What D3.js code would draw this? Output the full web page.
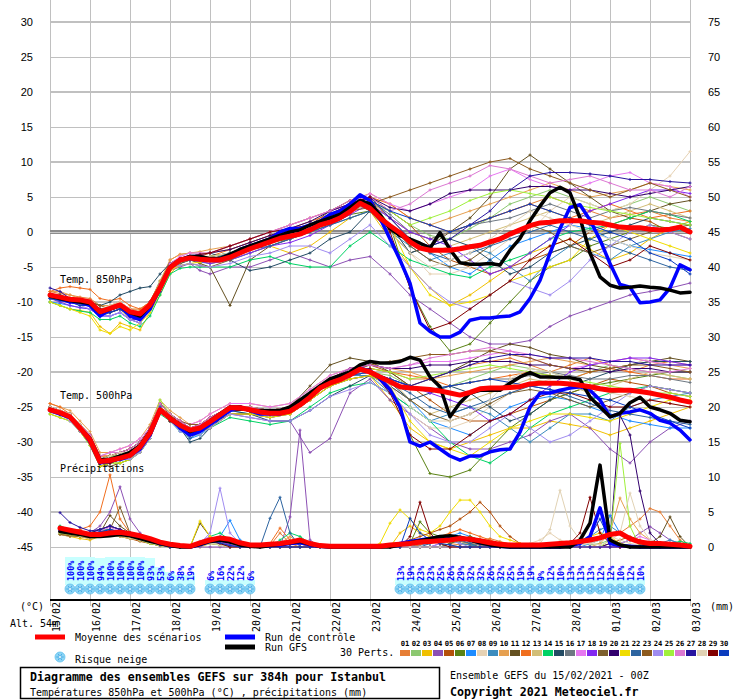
<!DOCTYPE html>
<html><head><meta charset="utf-8">
<script src="https://cdn.jsdelivr.net/npm/d3@7"></script>
<style>html,body{margin:0;padding:0;background:#fff;}svg{display:block;}</style>
</head><body>
<svg id="chart" width="740" height="700"></svg>
<script>
// ---------- categories / ticks ----------
const dayLabels=["15/02","16/02","17/02","18/02","19/02","20/02","21/02","22/02","23/02","24/02","25/02","26/02","27/02","28/02","01/03","02/03","03/03"];
const leftTicks=[30,25,20,15,10,5,0,-5,-10,-15,-20,-25,-30,-35,-40,-45];
const rightTicks=[75,70,65,60,55,50,45,40,35,30,25,20,15,10,5,0];
const memberIds=["01","02","03","04","05","06","07","08","09","10","11","12","13","14","15","16","17","18","19","20","21","22","23","24","25","26","27","28","29","30"];
const memberColors=["#e67e35","#8cc870","#f0c000","#8c50b4","#b4500a","#5a8214","#1e8cff","#e6d2b4","#3c8cbe","#e6a050","#645020","#f06e1e","#d2be78","#00d264","#234b64","#6e7882","#e678f0","#8228f0","#7d5f2d","#32006e","#f0dc00","#2d64a0","#8c5a1e","#a08cf0","#a0f03c","#dc78d2","#2814a0","#e1d2b4","#820000","#0a3cbe"];
// forecast hours
const hours6=[0,6,12,18,24,30,36,42,48,54,60,66,72,78,84,90,96,102,108,114,120,126,132,138,144,150,156,162,168,174,180,186,192,198,204,210,216,222,228,234,240,246,252,258,264,270,276,282,288,294,300,306,312,318,324,330,336,342,348,354,360,366,372,378,384];
const hoursT=[0,6,12,18,24,30,36,42,48,54,60,66,72,78,84,90,96,108,120,132,144,156,168,180,192,204,216,228,240,252,264,276,288,300,312,324,336,348,360,372,384];
const hoursP=[6,12,18,24,30,36,42,48,54,60,66,72,78,84,90,96,102,108,114,120,126,132,138,144,150,156,162,168,174,180,186,192,198,204,210,216,222,228,234,240,246,252,258,264,270,276,282,288,294,300,306,312,318,324,330,336,342,348,354,360,366,372,378,384];

// ---------- mean / control / GFS ----------
const mean850=[-9.0,-9.3,-9.6,-9.7,-10.0,-11.4,-10.9,-10.4,-11.4,-11.7,-10.4,-8.0,-5.1,-4.0,-3.7,-3.9,-4.0,-4.0,-3.6,-3.0,-2.4,-1.9,-1.4,-0.9,-0.6,-0.3,0.3,1.0,1.4,2.0,2.9,4.1,3.4,2.0,0.9,-0.1,-1.4,-2.3,-2.6,-2.6,-2.6,-2.4,-2.1,-1.9,-1.4,-1.0,-0.3,0.3,0.9,1.3,1.4,1.6,1.6,1.6,1.4,1.3,1.0,0.7,0.6,0.6,0.4,0.3,0.4,0.7,0.0];
const ctrl850=[-9.0,-9.5,-10,-10,-10.5,-12,-11,-10.5,-12,-12.5,-11,-8,-5,-4,-3.5,-3.5,-4,-4,-3.5,-2.5,-2,-1.5,-1,0,0.5,0.5,1,1.5,2.5,3,4,5.3,4.5,2,-1,-4,-7.3,-13,-14.2,-15,-15,-14.3,-12.6,-12.3,-12.3,-12.1,-12,-11.4,-9.5,-6.9,-3,0.5,3.5,3.9,1.7,-1.1,-4.5,-7.5,-7.9,-10.1,-10,-9.7,-8,-4.7,-5.4];
const gfs850=[-9.2,-9.5,-9.8,-10,-10.2,-11.5,-11,-10.5,-11.5,-12,-10.5,-8,-5,-4,-3.5,-3.5,-3.8,-3.8,-3.2,-2.5,-2,-1.5,-1,-0.5,0,0.3,1,1.5,2,2.5,3.5,4.5,4,2.5,0.5,-0.5,-1,-1.6,-2.3,-0.1,-2.5,-4.4,-4.6,-4.6,-4.5,-4.7,-2.6,-0.9,1.6,3.7,5.6,6.4,5.6,2,-3,-6.4,-7.6,-8,-7.9,-7.7,-7.9,-8,-8.3,-8.7,-8.6];
const mean500=[-25.4,-25.8,-26.4,-28,-29.7,-32.8,-32.6,-32.3,-31.9,-30.7,-28.7,-25.4,-26.6,-27.6,-28.3,-28,-27.1,-26.1,-25.1,-25.1,-25.4,-25.7,-25.9,-25.9,-25.6,-24.7,-23.6,-22.3,-21.6,-21.1,-20.4,-19.6,-20,-20.7,-21.4,-22.1,-22.3,-22.4,-22.5,-22.7,-23,-23.3,-22.9,-22.4,-22.3,-22.3,-22.2,-22.1,-21.7,-21.6,-21.6,-21.6,-21.7,-21.9,-22.1,-22.4,-22.6,-22.6,-22.6,-22.8,-23,-23.3,-23.6,-24,-24.3];
const ctrl500=[-25.5,-26,-26.5,-28,-30,-33,-32.5,-32.5,-32,-31,-29,-25.5,-26.5,-28,-29,-28.5,-27.5,-26.5,-25.5,-25,-25.5,-26,-26,-26,-25.5,-24.5,-23.5,-22,-21.5,-21,-20.5,-19.5,-19.8,-21,-22.5,-25,-30,-30.6,-30,-31,-32,-32.6,-32,-32,-31.4,-31.1,-31,-28.6,-25,-23,-23,-22.6,-22.3,-22.1,-22.6,-24,-26.4,-25.9,-25.7,-25.4,-25.9,-26.9,-27.3,-28.3,-29.7];
const gfs500=[-25.3,-25.8,-26.5,-28,-29.5,-32.5,-32.5,-32,-31.5,-30.5,-28.5,-25.5,-26.5,-27.5,-28.5,-28,-27,-26,-25,-25,-25.5,-25.5,-25.5,-25.5,-25,-24,-23,-22,-21,-20.5,-20,-19,-18.5,-18.7,-18.7,-18.5,-17.9,-18.3,-20.7,-22.1,-26.4,-24.4,-23,-22.6,-22.6,-22.6,-21.6,-20.7,-20.1,-20.7,-20.7,-20.8,-20.8,-21.1,-23.6,-25,-26.4,-25.9,-24.4,-23.6,-25,-25.4,-25.9,-26.9,-27.1];
const meanPr=[2.7,2.4,2.1,1.8,1.8,2.0,2.1,1.9,1.6,1.2,0.7,0.4,0.2,0.1,0.6,1.0,1.3,1.1,0.6,0.3,0.3,0.4,0.5,0.7,1.0,0.5,0.2,0.1,0.1,0.1,0.1,0.1,0.1,0.3,0.4,0.5,0.7,0.8,0.9,1.0,1.2,1.1,0.9,0.6,0.4,0.3,0.3,0.3,0.3,0.4,0.5,0.6,0.8,1.0,1.3,1.8,2.0,1.2,0.7,0.5,0.5,0.4,0.3,0.1];
const ctrlPr=[2.5,2.2,2,1.7,1.6,1.8,2,1.7,1.4,1,0.6,0.3,0.1,0,0.3,0.8,1,0.8,0.4,0.2,0.1,0.2,0.3,0.5,0.6,0.3,0.1,0,0,0,0,0,0,0.2,0.5,0.8,1,1.2,1.4,1.4,1.3,1,0.6,0.3,0.1,0,0,0,0,0,0,0.2,0.5,1.5,5.6,0.5,0.2,0.1,0,0,0,0,0,0];
const gfsPr=[2.2,2,1.8,1.5,1.5,1.6,1.8,1.6,1.2,0.8,0.5,0.2,0,0,0.4,0.8,1,0.7,0.3,0.1,0,0.2,0.4,0.6,0.8,0.4,0.1,0,0,0,0,0,0,0,0.3,0.6,0.9,1.2,1.5,1.6,1.4,1,0.6,0.3,0.1,0,0,0,0,0,0,0,1,3.4,11.7,1,0.3,0,0,0,0,0,0,0];

// ---------- members: T850 (hoursT) ----------
const t850_01=[-8.5,-8.8,-9,-9.3,-9.5,-10.5,-10.5,-10,-11,-11,-10,-7.5,-4,-3.2,-3,-3,-3,-2.5,-1.5,-0.5,0,1,2,3.5,4.5,2,0,-1,0,1,2,3,4,5,4,3,2,2.5,3,2,1.5];
const t850_02=[-9,-9.5,-10,-10.3,-10.5,-12,-11.5,-11,-12,-12.5,-11,-8.5,-5,-3.8,-3.5,-3.8,-4,-3,-2,-1,0,0.5,1.5,3,4,3,1,-0.5,-1,0.5,2,4,5,6,5,4,3,4,5,4,3];
const t850_03=[-10,-10.5,-11,-11.2,-11.5,-13.5,-14.5,-13,-13.5,-14,-11.5,-9,-6,-4.5,-4,-4.2,-4.5,-4,-3,-2,-3,-2,0,2,3,-1,-5,-8,-10.5,-9,-7,-5,-3,-2,-1,-2.5,-4,-3,-1,0.5,1.5];
const t850_04=[-9,-9.2,-9.5,-9.8,-10,-11.5,-11.5,-11,-12.5,-12.5,-11,-8.5,-5.5,-5,-4.5,-5.5,-6,-5,-5,-4,-3,-4,-5,-4,-3.5,-6,-9,-11,-13,-15,-16,-16,-15.5,-13.5,-12,-11,-10,-9,-8.5,-8,-7.3];
const t850_05=[-9,-9.5,-10,-10,-10,-11,-11,-10.5,-12,-12,-10.5,-7.5,-5,-4.2,-4,-3.5,-3,-2,-1,0,1,2,3,4,5,3,1,-2,-4,-5,-6,-5,-4,-3,-2,0,1,2,1.5,0,-1];
const t850_06=[-9.5,-9.8,-10,-10.2,-10.5,-11.5,-11.5,-11,-12,-12.5,-10,-7,-4.5,-3.8,-3.5,-3.8,-4,-3,-2,-1.5,-1,0,1,2.5,3,1,-8,-13.5,-17,-16,-13,-10,-7,-5,-4,-2,-1,0,1,0.5,0];
const t850_07=[-10,-10.2,-10.5,-10.8,-11,-12,-12,-11.5,-12.5,-13,-11,-8.5,-5,-4.5,-4,-3.8,-3.5,-3,-2,-1,-1,0.5,2,3,4,2,-1,-3,-5,-6,-4,-2,-1,0,1,0.5,-1,-2,-2.5,-3,-3.5];
const t850_08=[-9,-9.2,-9.5,-9.8,-10,-11,-11,-10.5,-11.5,-12,-10,-7.5,-5,-3.5,-3,-3,-3,-2,-1,0,-1,0,1.5,3,4,1,-3,-6,-6,-5,-3,-1,0,3,5,4,3,4,6,8,11.5];
const t850_09=[-9.5,-9.8,-10,-10.2,-10.5,-11.5,-11,-10.5,-12,-12.5,-10.5,-8,-5,-4.2,-4,-4.3,-4.5,-4,-3,-2,-1,0,1,2,3,0,-2,-4,-3,-2,-3,-5,-7,-4,-2,-3,-4,-2,-1,0,0.5];
const t850_10=[-8.5,-8.5,-9,-9.5,-10,-10.5,-10.5,-10,-11,-11.2,-10,-7,-4,-3.2,-3,-2.8,-2.5,-2,-1,0,1,2,3,4.5,5.5,4,2,1,2,3,4,5,6,7,6,5,5.5,6,7,6.5,6];
const t850_11=[-9,-9.2,-9.5,-10,-10.5,-11.5,-11,-10.5,-12,-12.5,-10,-7.5,-5,-4.5,-4,-4.5,-5,-10.5,-4,-2,-1,1,3,4.5,3,0,-3,-2,0,2,5,9,11,9,7,5,3,2,3,4,4.5];
const t850_12=[-8.5,-8,-7.8,-8,-8.2,-9.5,-9.8,-9.5,-10.5,-11,-10,-7.5,-5,-4.2,-4,-3.7,-3.5,-2.5,-1.5,-0.5,0.5,1.5,2.5,4,5,4,2,1,0,1,2,3,4,3,2,3,4,3,2,2.5,3];
const t850_13=[-9.5,-9.8,-10,-10.5,-10.5,-12,-11.5,-11,-12.5,-13,-11,-8.5,-5.5,-4.3,-4,-4,-4,-3.5,-2.5,-1.5,-0.5,0.5,1.5,3,4,2,-1,-3,-2,-1,0,1,2,3,2,1,2,3,4,3,2];
const t850_14=[-10,-10.5,-11,-11.3,-11.5,-12.5,-12.5,-12,-13,-13.5,-12,-9,-6,-5.2,-5,-5,-5,-5,-4,-3.5,-4.5,-5,-5,-2,0,-2,-4,-5,-6,-6.5,-5,-4,-3,-1,0,0.5,1,2,3,2.5,1.5];
const t850_15=[-9,-9,-9.5,-9.7,-10,-10.5,-10,-9,-8.5,-8,-7.8,-6,-4.5,-3.8,-3.5,-3.2,-3,-4,-5.5,-5,-4,-3,-1,0,3,1,-3,-2,-1,-2,-4,-6,-5,-3,-2,-1,0,1,2,1.5,1];
const t850_16=[-9.5,-9.8,-10,-10.2,-10.5,-11.5,-11,-10.5,-11.5,-12,-10.5,-8,-5,-4.2,-4,-3.8,-3.5,-3,-2,-1,0,1,2,3,4.5,2.5,0,-1,0,1,1.5,2,3,4,3,2,3,3.5,3,2.5,2];
const t850_17=[-9,-9.3,-9.5,-9.8,-10,-11,-11,-10.5,-11.5,-12,-10.5,-7.5,-4.5,-3.5,-3,-3,-3,-2,-1,0,1,2,3,4,5.5,4,3,4,5,6,8,9,7.5,6.5,6,7,8,8.5,7,6.5,5];
const t850_18=[-9.5,-10,-10.5,-10.8,-11,-12,-12,-11.5,-12.5,-13,-11,-8.5,-5,-4.2,-4,-4.2,-4.5,-4,-3,-2,-1.5,-0.5,1,2.5,4,2,0,-1,-2,-4,-6,-5,-3,-1,1,3,4,5,6,6,5.5];
const t850_19=[-9,-9.5,-10,-10.3,-10.5,-11.5,-11.5,-11,-12,-12.5,-11,-8.5,-5,-4.8,-4.5,-4.8,-5,-4,-2.5,-1.5,-0.5,0.5,1.5,3,3.5,1,-2,-4,-5,-4,-2,0,1,0,-2,-3,-2,-1,0,0.5,1];
const t850_20=[-9,-9.2,-9.5,-9.8,-10,-11,-11,-10.5,-11.5,-12,-10,-7.5,-4.5,-3.8,-3.5,-3.2,-3,-2.5,-1.5,-0.5,0.5,1.5,3,4,5,3.5,3,4,5.5,6,6,6,6.5,6.5,6,6,5.5,5,5.5,6,6.5];
const t850_21=[-10,-10.5,-11,-11.5,-12,-14,-14.5,-13.5,-14,-13,-11.5,-8.5,-5.5,-4.8,-4.5,-4.3,-4,-3,-2,-1,0,1,2,3.5,4.5,1,-5,-9,-10.5,-10,-9,-7,-6,-5,-4,-1,1,0,-1,-2,-3];
const t850_22=[-9.5,-9.8,-10,-10.2,-10.5,-11,-11,-10.5,-11.5,-12,-10.5,-8,-5,-4.2,-4,-4,-4,-3.5,-2.5,-2,-1,0,1,2,3,1,-1,-3,-4,-3,-2,-1,0,1,0,-1,-2,-3,-4,-5,-5.5];
const t850_23=[-9,-9.2,-9.5,-9.8,-10,-10.5,-11,-10.5,-11,-11.5,-10,-7.5,-4.5,-3.8,-3.5,-3.5,-3.5,-3,-2,-1,0,1,2,3,4,5,6,7,8,9,10,10.5,9,8,7,6,5,6,7,6,5];
const t850_24=[-9.5,-9.8,-10,-10.5,-11,-12,-12,-11.5,-12.5,-13,-11,-8.5,-5,-4.8,-4.5,-4.8,-5,-4.5,-3.5,-3,-2,-2,-3,-1,1,-2,-5,-8,-10,-11,-9,-7,-8,-9,-7,-4,-2,0,1,0,-1];
const t850_25=[-9,-9.3,-9.5,-9.8,-10,-11,-11,-10.5,-11.5,-12,-10.5,-8,-5,-4.2,-4,-3.7,-3.5,-3,-2,-1,0,1,2,3.5,4.5,3,1,2,3,4.5,5.5,6,5.5,5,4,3.5,3,2.5,2,1.5,1];
const t850_26=[-9,-9.2,-9.5,-9.8,-10,-11,-11,-10.5,-11.5,-12,-10,-7.5,-4.5,-3.8,-3.5,-3.2,-3,-2,-1,0,1,2,3,4.5,5,3,4,6,7,8,9.5,9,8,7,7.5,8,7,6,6,5,6.5];
const t850_27=[-8,-8.5,-9.5,-10,-10.5,-11.5,-11.5,-11,-12,-12.5,-11,-8.5,-5,-4.2,-4,-4,-4,-3.5,-2.5,-1.5,-0.5,0.5,2,3.5,5,2,-1,-2,-1,1,3,6,8,8.5,8.5,8.3,8,7.5,7.5,7.2,7];
const t850_28=[-9,-9.3,-9.5,-9.8,-10,-11,-10.5,-10,-11,-11.5,-10.5,-8,-5,-4.2,-4,-3.7,-3.5,-3,-2,-1,0,1,2,3,4,0,-3,-5,-4,-3,-1,1,3,2,1,0,-1,-2,-3,-3.5,-4];
const t850_29=[-9,-9.3,-9.5,-9.8,-10,-11,-11,-10.5,-11.5,-12,-10.5,-8,-5,-3.8,-3.5,-3.2,-3,-2,-1,0,0.5,1,2.5,4,5,0,-8,-14,-13,-11,-9,-7,-4,-2,-1,-3,-5,-4,-2,-3,-4];
const t850_30=[-9.5,-9.8,-10,-10.5,-10.5,-12,-11.5,-11,-12,-12.5,-11,-8.5,-5,-4.2,-4,-4,-4,-3,-2,-1,0,1,2,3.5,4.5,3,2,1,0,1,2,3,4,3,2,1,0,-1,-3,-4,-6];

// ---------- members: T500 (hoursT) ----------
const t500_01=[-25,-25.5,-26,-27.5,-29,-32,-32,-31.5,-31,-30,-28,-24.5,-26,-27,-28,-27.5,-26.5,-25,-25,-25.5,-25,-23,-21,-20,-19.5,-20,-21,-21,-20,-19,-18.5,-18,-19,-20,-19,-18,-19,-20,-19,-18.5,-19];
const t500_02=[-25.5,-26,-26.5,-28,-30,-33,-32.5,-32,-31.5,-30.5,-28.5,-25,-26.5,-27.5,-28,-28,-27,-25,-25,-26,-25.5,-23.5,-21.5,-20.5,-20,-20.5,-22,-22.5,-22,-21,-20,-19,-19.5,-20,-21,-20,-19,-19.5,-20,-20.5,-21];
const t500_03=[-25,-25.5,-26.5,-28.5,-30,-33.5,-33,-32.5,-32.5,-31,-29,-25.5,-27,-28,-28.5,-28,-27.5,-25.5,-25.5,-26,-26,-24,-22,-21,-20.5,-24,-28,-30,-31,-30,-29,-28,-28,-27,-27.5,-28,-29,-28,-27,-26,-25];
const t500_04=[-25.5,-26,-26.5,-28.5,-30,-33,-32.5,-32,-32,-30.5,-29,-25,-27,-28,-29,-28.5,-28,-26,-26.5,-27,-27,-31.5,-29.5,-23,-21,-24,-26,-28,-30,-31,-31,-30,-29,-27,-26,-28,-31,-33,-30,-28,-27];
const t500_05=[-25,-25.5,-26,-27.5,-29.5,-32.5,-32,-31.5,-31.5,-30.5,-28.5,-25,-26,-27.5,-28.5,-28,-27,-25,-25,-25.5,-25,-23,-21,-19.5,-19,-20,-22,-24,-26,-27,-27,-26,-25,-24,-23,-22,-21,-21.5,-22,-23,-23.5];
const t500_06=[-25.5,-26,-26.5,-28,-30,-33,-33,-32.5,-32,-31,-29,-25.5,-27,-28,-28.5,-28,-27.5,-25.5,-25.5,-26,-25.5,-23.5,-21.5,-20.5,-20,-22,-29,-34.5,-35,-34,-31,-28,-26,-24,-23,-22,-21.5,-21,-20.5,-20,-20];
const t500_07=[-25,-26,-26.5,-28,-29.5,-33,-32.5,-32.5,-32,-30.5,-28.5,-25,-26.5,-28,-29.5,-29,-27.5,-25.5,-26,-26.5,-26,-24,-22,-21,-20.5,-22,-24,-27,-28,-29,-27,-25,-24,-23.5,-24,-25,-26,-27,-27.5,-28,-28];
const t500_08=[-25,-25.5,-26,-27.5,-29,-32.5,-32,-31.5,-31,-30,-28,-24.5,-26,-27,-28,-27.5,-26.5,-25,-25,-25.5,-26,-24,-22,-20.5,-20,-23,-26,-28,-28,-27,-25,-23,-22,-21,-20,-19.5,-20,-19,-18,-18.5,-19];
const t500_09=[-25.5,-26,-26.5,-28,-29.5,-33,-33,-32.5,-32,-31,-29,-25.5,-27,-27.5,-28.5,-28,-27,-25.5,-25.5,-26,-25.5,-23.5,-21.5,-20.5,-20.5,-23,-25,-27,-26,-25,-26,-28,-30,-28,-26,-26,-27,-25,-24,-23.5,-23];
const t500_10=[-24.5,-25,-25.5,-27,-28.5,-31.5,-31.5,-31,-30.5,-29.5,-27.5,-24,-25.5,-26.5,-27.5,-27,-26,-24.5,-24.5,-25,-24.5,-22.5,-20.5,-19.5,-19,-19.5,-20,-21,-20.5,-20,-19.5,-19,-18.5,-18,-18.5,-19,-18.5,-18,-18.5,-19,-19.5];
const t500_11=[-25.5,-26,-26.5,-28.5,-30,-33,-33.5,-33,-32.5,-31.5,-29.5,-25.5,-27,-28,-29,-28.5,-28,-26,-26,-26,-25,-22,-19,-18,-18.5,-20,-22,-21,-20,-18.5,-17,-16,-16.5,-17.5,-18,-19,-19.5,-19,-18.5,-18,-18.5];
const t500_12=[-24.5,-25,-26,-27.5,-29,-32,-32,-31.5,-31,-30,-28,-24.5,-26,-27.5,-28,-27.5,-27,-25,-25,-25.5,-25,-23,-21,-20,-19.5,-20,-20.5,-21,-22,-21.5,-21,-20.5,-20,-20.5,-21,-20,-19.5,-20,-20.5,-21,-21];
const t500_13=[-25.5,-26,-26.5,-28,-29.5,-32.5,-32.5,-32,-31.5,-30.5,-28.5,-25,-26.5,-27.5,-28.5,-28,-27,-25.5,-25.5,-26,-26,-24,-22,-20.5,-20,-21,-24,-26,-25,-24,-23,-22,-21,-21.5,-22,-23,-22,-21,-20,-20.5,-21];
const t500_14=[-26,-26.5,-27,-28.5,-30.5,-33.5,-33,-33,-32.5,-31.5,-29.5,-26,-27,-28.5,-29,-29,-28,-26.5,-27,-27.5,-27,-25,-23,-22,-21.5,-23,-25,-27,-30,-32,-33,-31,-28,-26,-25,-24,-23,-22.5,-22,-22.5,-23];
const t500_15=[-25,-25.5,-26,-28,-29.5,-32.5,-32,-32,-31.5,-30.5,-28.5,-25,-26.5,-28,-30,-29.5,-28,-25.5,-26,-27,-27,-25.5,-23.5,-22,-20.5,-21.5,-24,-23,-22,-23,-25,-27,-26,-24,-22,-21,-20,-19,-18.5,-18.5,-18.5];
const t500_16=[-25.5,-26,-26.5,-28,-30,-33,-32.5,-32,-31.5,-30.5,-28.5,-25,-26.5,-27.5,-28,-28,-27,-25,-25.5,-26,-25.5,-23.5,-21.5,-20.5,-20,-21,-22,-22.5,-22,-21.5,-21,-21,-20.5,-20,-20.5,-21,-21,-20.5,-20.5,-21,-21.5];
const t500_17=[-25,-25.5,-26,-27.5,-29,-32,-31.5,-31,-30.5,-29.5,-28,-24.5,-26,-27,-27.5,-27,-26,-24.5,-24.5,-25,-24.5,-22.5,-20.5,-19.5,-19,-19.5,-19,-18.5,-18.5,-18,-17.5,-17,-18,-19,-19.5,-19,-18.5,-18,-18.5,-19,-19];
const t500_18=[-25.5,-26,-26.5,-28,-30,-33,-33,-32.5,-32,-31,-29,-25,-26.5,-27.5,-28.5,-28,-27.5,-25.5,-25.5,-26,-25.5,-23.5,-21.5,-20.5,-20,-21,-22,-23,-24,-25,-27,-26,-24,-22,-20,-19,-18.5,-18,-18,-18.5,-19];
const t500_19=[-25,-25.5,-26.5,-28.5,-30,-33.5,-33,-32.5,-32,-31,-29,-25.5,-27,-28,-29,-28.5,-27.5,-26,-26,-26.5,-26,-24,-22,-21,-20.5,-22,-24,-26,-27,-26,-24.5,-23,-22.5,-23,-24,-25,-24,-23,-22,-22.5,-23];
const t500_20=[-25.5,-26,-26,-27.5,-29.5,-32.5,-32,-31.5,-31,-30,-28,-24.5,-26,-27,-28,-27.5,-26.5,-25,-25,-25.5,-25,-23,-21,-19.5,-19,-19.5,-19.5,-19,-19,-18.5,-18.5,-18.5,-19,-19,-19.5,-19.5,-20,-19.5,-19.5,-20,-20];
const t500_21=[-26,-26.5,-27,-28.5,-30.5,-33.5,-33,-33,-32.5,-31.5,-29.5,-25.5,-27,-28,-29,-28.5,-28,-26,-26,-26.5,-26,-24,-22,-21,-20.5,-22,-27,-30,-31,-32,-30,-28,-27,-26,-26,-26.5,-27,-26,-25,-24,-24];
const t500_22=[-25.5,-26,-26.5,-28,-30,-33,-32.5,-32,-32,-31,-29,-25.5,-27,-28,-29.5,-28.5,-27.5,-25.5,-25.5,-26,-25.5,-23.5,-21.5,-20.5,-20,-21.5,-23,-25,-26,-25,-24,-23,-22,-22.5,-23.5,-24.5,-25.5,-26,-26.5,-27,-27.5];
const t500_23=[-25,-25.5,-26,-27.5,-29,-32.5,-32,-31.5,-31,-30,-28,-24.5,-26,-27,-27.5,-27.5,-26.5,-25,-25,-25.5,-25,-23,-21,-20,-19,-18.5,-18,-17.5,-17.5,-17,-17,-17.5,-18,-19,-19.5,-20,-19.5,-19,-19,-19.5,-20];
const t500_24=[-25.5,-26,-27,-28.5,-30,-33,-33,-32.5,-32.5,-31.5,-29.5,-25.5,-27,-28.5,-29,-29,-28,-26,-26.5,-27,-27,-25.5,-23.5,-22.5,-21.5,-23,-26,-29,-30,-30,-28,-26,-28,-30,-29,-27,-25,-23,-22,-22.5,-23];
const t500_25=[-25,-25.5,-26,-27.5,-29.5,-32.5,-32,-32,-31.5,-30.5,-28.5,-24,-26,-27.5,-28,-28,-27,-25,-25,-25.5,-25,-23,-21,-20,-19.5,-20,-21,-20.5,-20,-19.5,-19,-19.5,-20,-20.5,-21,-21.5,-22,-22.5,-23,-23,-23.5];
const t500_26=[-25,-25.5,-26,-27.5,-29,-32,-31.5,-31.5,-31,-30,-28,-24.5,-26,-27,-28,-27.5,-26.5,-25,-25,-25.5,-25,-23,-21,-19.5,-19,-19.5,-19,-18,-17.5,-17,-16.5,-17,-17.5,-18,-18,-18.5,-19,-19.5,-20,-20,-19.5];
const t500_27=[-25.5,-26,-26.5,-28,-30,-33,-33,-32.5,-32,-31,-29,-25.5,-26.5,-28,-29,-28.5,-27.5,-25.5,-25.5,-26,-25.5,-23.5,-21.5,-20.5,-20,-21,-22,-21,-20,-19,-18,-17.5,-17.5,-18,-18,-18,-18.5,-18.5,-19,-19,-19];
const t500_28=[-25,-25.5,-26,-27.5,-29.5,-32.5,-32,-31.5,-31.5,-30.5,-28.5,-25,-26.5,-27.5,-28,-28,-27,-25,-25.5,-26,-25.5,-23.5,-21.5,-20.5,-20,-22,-25,-27,-27,-26,-24,-21,-19.5,-20,-21,-22,-23,-23.5,-24,-24.5,-25];
const t500_29=[-25.5,-26,-26.5,-28,-30,-33,-33,-32.5,-32,-31,-29,-25.5,-27,-28,-28.5,-28,-27.5,-25.5,-25.5,-26,-25.5,-23.5,-21.5,-20,-19.5,-23,-29,-31,-31,-29,-27,-26,-24,-23,-23,-24,-25,-25,-24,-24.5,-25];
const t500_30=[-25.5,-26,-26.5,-28,-29.5,-32.5,-32.5,-32,-31.5,-30.5,-28.5,-25,-26.5,-27.5,-28.5,-28,-27,-25,-25.5,-26,-25.5,-23.5,-21.5,-20.5,-20,-21,-22,-22.5,-22,-21.5,-21,-21.5,-22,-22.5,-23,-23.5,-24,-25,-26,-27,-28];

// ---------- members: precipitation mm / 6h (hoursP) ----------
const pr_01=[2.5,2,1.5,2,2.5,3,2.5,2,1.5,1,0.5,0,0,0,0.5,1,0.8,0.3,0,0,0,0.2,2,0.5,0,0,0,0,0,0,0,0,0,0,0.3,0.5,1,1.5,1,0.5,0.3,0.5,1,1.2,0.8,0.4,0.2,0.1,0,0,0.3,0.5,1,0.5,1,1.5,2,3,4,5.5,5,3,1,0];
const pr_02=[2.2,2,1.8,1.5,1.8,2,2.2,1.5,1.2,0.8,0.3,0,0,0,0.8,1.5,1,0.5,0,0,0,0,0,0,0,0,0,0,0,0,0,0,0,0,0,0.2,0.5,0.8,1.2,1.5,1,0.5,0.3,0.2,0,0,0,0,0,0.2,0.5,0.8,0.5,0.3,0.5,1,0.5,0.2,0,0,0,0,0,0];
const pr_03=[2,1.5,1.2,1,1.5,2,1.5,1.2,1,0.5,0.2,0,0,0,0,0.5,0.3,0,0,0,0,0,0,0,0,0,0,0,0,0,0,0,0,0,2,3,2,1.5,1.2,1,0.8,0.5,0.3,0.2,0,0,0,0,0,0,0,0,0.5,1,1.5,1,0.5,0.2,0,0,0,0,0,0];
const pr_04=[2.5,2,1.5,2,3,5,8.6,4,2,1,0.5,0,0,0,0,0,0,0,0,0,0,0,0,4.3,16.7,1,0,0,0,0,0,0,0,0,0,0,0,0,0,0,0,0,0,0,0,0,0,0,0,0,0,0,0,0,0,0,0.5,1,2,2.9,2,1,0.5,0];
const pr_05=[1.8,1.5,1.5,1.2,1.5,1.8,1.5,1.2,0.8,0.5,0.2,0,0,0,0.5,1,0.5,0,0,0,0,0,0,0,0,0,0,0,0,0,0,0,0,0,0.5,1,1.5,2,2.5,3,4,5,6.4,5,3,1.5,0.5,0.2,0,0,0,0,0,0,0,0.5,1,1.5,1,0.5,0.2,0,0,0];
const pr_06=[2.2,1.8,1.5,1.5,2,2.5,2,1.5,1,0.5,0.2,0,0,0,0.3,0.5,0.3,0,0,0,0,0,0,0,0,0,0,0,0,0,0,0,0,0,0,0.5,3.6,2,1.5,1,0.5,0.3,0,0,0,0,0,0,0,0,0,0,0,0,0,0,0,0,0,0,0,0,0,0];
const pr_07=[2.5,2,1.8,2,2.5,3,2.5,1.8,1.2,0.8,0.3,0,0,0,0.5,1,1.5,3.8,1,0,0,0,0,0,0,0,0,0,0,0,0,0,0,0,0,0,0.3,0.5,1,1.5,2,1.5,1,0.5,0.3,0,0,0,0,0,0,0,0,0.5,1,4.5,2,1,0.5,0,0,0,0,0];
const pr_08=[2,1.8,1.5,1.5,1.8,2,1.8,1.5,1,0.5,0.2,0,0,0,0.2,0.5,0.3,0,0,0,0,0,0,0,0,0,0,0,0,0,0,0,0,0,0,0,0,0,0,0,0,0,0,0,0,0,0,0.5,1,2,1,0.5,0.3,0.5,1,1.5,1,0.5,0.3,0,0,0,0,0];
const pr_09=[2.3,2,1.8,1.8,2,2.2,2,1.8,1.5,1,0.5,0.2,0,0,0.3,0.8,0.5,0.2,0,0,0,0,0,0,0,0,0,0,0,0,0,0,0,0,0,0,0.5,1,1.5,1,0.5,0.3,0,0,0,0,0,0,0,0,0,0.3,0.8,1.5,2.5,3,2,1,0.5,0.3,0.5,1,0.5,0];
const pr_10=[2.8,2.5,2,2,2.5,3,2.5,2,1.5,1,0.5,0,0,0,0.5,1,0.8,0.3,0,0,0,0,0.5,1.5,0.5,0,0,0,0,0,0,0,0,0,0,0.5,1,0.8,0.5,0.3,0,0,0,0,0,0,0,0,0,0,0,0,0,0,0.5,2,7,4,2,1,0.5,0.2,0,0];
const pr_11=[2.2,2,1.8,1.5,2,4.5,3,2,1.2,0.8,0.3,0,0,0,3.4,1.5,0.5,0,0,0,0,0,0,0,0,0,0,0,0,0,0,0,0,0,0,0,0,0,0,0,0,0,0,0,0,0,0,0,0,0,0,0,0,0,0,0,0,0,0,0.5,1.5,4.3,1.5,0];
const pr_12=[2.8,2.5,2.5,3,5,10.3,4,2,1.5,1,0.5,0,0,0,0.5,1,0.5,0,0,0,0,0.5,2.7,1,0.5,0,0,0,0,0,0,0,0,0,0,0,0.3,0.8,1.5,2,2.5,2,1.5,1,0.5,0.3,0,0,0,0,0,0,0,0,0,0,0,0,0,0,0,0,0,0];
const pr_13=[1.8,1.5,1.5,1.2,1.5,1.8,1.5,1.2,1,0.5,0.2,0,0,0,0.3,0.6,0.3,0,0,0,0,0,0,0,0,0,0,0,0,0,0,0,0,0,0,0,0,0,0,0.5,1,1.5,1,0.5,0,0,0,0,0,0,0,0,0,0,0,0,0,0,0,0,0,0,0,0];
const pr_14=[3,2.5,2,2,2.5,2.5,2,1.8,1.5,1,0.5,0.2,0,0,0.5,1.5,2,1,0.5,0,0,0,1,2,1.5,0.5,0,0,0,0,0,0,0,0,0,0,0,0,0,0.5,1,1.5,1,0.5,0.3,0,0,0,0,0,0,0,0,0,0,0,0.5,1,0.5,0,0,0.5,0.8,0.5,0];
const pr_15=[2,1.8,1.5,1.5,2,2.5,2.2,2,1.5,0.8,0.3,0,0,0,0.3,0.8,0.5,0,0,0,0,0,0,0,0,0,0,0,0,0,0,0,0,0,0,0,0,0,0,0,0,0,0,0,0,0,0,0,0,0,0,0,0,0,0,0,0,0,0,0,0,0,0,0];
const pr_16=[2.2,2,1.8,1.8,2.2,2.5,2,1.5,1,0.6,0.2,0,0,0,0.5,1,0.5,0.2,0,0,0,0,0,0,0,0,0,0,0,0,0,0,0,0,0,0.3,0.8,1.2,1.5,1.2,0.8,0.5,0.3,0,0,0,0,0,0,0,0,0,0,0,0,0,0,0,0,0,0,0,0,0];
const pr_17=[2.5,2.2,2,2,2.3,2.8,2.3,1.8,1.3,0.8,0.3,0,0,0,0.8,1.5,1,0.3,0,0,0,0,0,0,0,0,0,0,0,0,0,0,0,0,0,0,0,0,0,0,0,0,0,0,0,0,0,0,0,0,0,0,0,0,0,0,0.5,1,1.5,1,0.5,0,0,0];
const pr_18=[2.3,2,1.8,1.6,2,2.4,2,1.6,1.2,0.8,0.3,0,0,0,0.5,1.2,0.8,0.3,0,0,0,0,0,0,0,0,0,0,0,0,0,0,0,0,0,0,0,0,0.5,1,1.5,1,0.5,0.2,0,0,0,0,0,0,0,0,0,0,0,0,0,0,0,0,0,0,0,0];
const pr_19=[2.1,1.8,1.6,1.5,2,2.5,5.7,2,1.2,0.6,0.2,0,0,0,0.5,1,0.5,0,0,0,0,0,0,0,0,0,0,0,0,0,0,0,0,0,0,0,0,0,0,0.5,1,1.5,1,0.5,0.3,0,0,0,0,0,0,0,0,0,0,0,0,0,0,0,0,0,0,0];
const pr_20=[2.8,2.5,2.2,2,2.5,3,2.5,2,1.5,1,0.5,0,0,0,0.3,0.8,0.5,0,0,0,0,0,0,0,0,0,0,0,0,0,0,0,0,0,0,0,0,0,0,0,0,0,0,0,0,0,0,0,0,0,0,0,0,0,0,0.5,18.8,16,8,2,0.5,0,0,0];
const pr_21=[2,1.8,1.5,1.5,1.8,2,1.8,1.5,1,0.5,0.2,0,0,0,3.7,1.5,0.5,0,0,0,0,0,0,0,0,0,0,0,0,0,0,0,0.5,3.4,5.3,4,2.5,2,3,5,6.7,6.7,5,3,1.5,1,0.5,0,0,0,0,0.5,1,1.5,2,1.5,0.5,0,0,0,0,0,0,0];
const pr_22=[2.2,2,1.8,1.8,2.2,2.5,2.2,1.8,1.3,0.8,0.3,0,0,0,0.3,0.8,0.5,0,0,0,0,4.1,7.1,2,0,0,0,0,0,0,0,0,0,0,0,0,0,0.5,1,1.5,1,0.5,0,0,0,0,0,0,0,0,0,0,0,0,0,0,0,0,0,0,0,0,0,0];
const pr_23=[1.8,1.6,1.5,1.4,1.6,2,1.8,1.5,1,0.5,0.2,0,0,0,0.5,1,0.5,0,0,0,0,0,0,0,0,0,0,0,0,0,0,0,0,0,0,0,0,0,0,0,0,0,0,0,0,0,0,0,0,0,0,0,0,0,0,0,0,0,0,0,0,0,0,0];
const pr_24=[2.1,1.9,1.7,1.6,1.9,2.2,1.9,1.6,1.2,0.7,0.3,0,0,0,0.5,2,8.4,2,0.5,0,0,0,0,0,0,0,0,0,0,0,0,0,0,0,0,0,0,0,0.5,1,0.5,0,0,0,0,0,0,0,0,0,0,0,0,0,0,0,0,0,0,0,0,0,0,0];
const pr_25=[2,1.8,1.6,1.5,1.8,2.1,1.8,1.5,1,0.5,0.2,0,0,0,0.3,0.6,0.3,0,0,0,0,0,0,0,0,0,0,0,0,0,0,0,0,0,0,0,0,0,0,0,0,0,0,0,0,0,0,0,0,0,0,0,0,0,0,1,14.8,3,0,0,0,0,0,0];
const pr_26=[2.3,2,1.8,1.7,2,2.4,2,1.6,1.2,0.7,0.3,0,0,0,0.5,1,0.5,0,0,0,0,0,0,0,0,0,0,0,0,0,0,0,0,0,0,0,0,0,0,0,0,0,0,0,0,0,0,0,0,0,0,0,0,0,0,0,0,0,0,0,0,0,0,0];
const pr_27=[4.9,3.5,2.8,2.3,2.5,3,2.5,2,1.5,1,0.5,0,0,0,0.5,1,0.5,0,0,0,0,0,0,0,0,0,0,0,0,0,0,0,0,0,0,0,0,0,0,0,0,0,0,0,0,0,0,0,0,0,0,0,0,0,0,0,0,0,0,0,0,0,0,0];
const pr_28=[2.1,1.9,1.6,1.5,1.8,2,1.8,1.4,1,0.6,0.2,0,0,0,0.3,0.6,0.3,0,0,0,0,0,0,0,0,0,0,0,0,0,0,0,0,0,0,0,0,0,0,0,0,0,0,0,0,0,0,0,0.5,2.5,8.1,3,1,0.5,0.3,0.8,2,7.7,3,1,0.5,0,0,0];
const pr_29=[2.2,2,1.8,1.7,2,2.3,2,1.7,1.3,0.8,0.3,0,0,0,0.5,1,0.5,0,0,0,0,0,0,0,0,0,0,0,0,0,0,0,0,0,0,1.5,6.4,2,0.5,0,0,0,0,0,0,0,0,0,0,0,0,0.5,2,7.1,2,0.5,0,0,0,0,0,0,0,0];
const pr_30=[2.3,2.1,1.9,1.8,2.1,2.5,2.1,1.7,1.3,0.8,0.3,0,0,0,0.5,1,0.6,0.2,0,0,0,0,0,0,0,0,0,0,0,0,0,0,0,0,0,4.1,2,1,0.5,0.3,0,0,0,0,0,0,0,0,0,0,0,0,0.5,1.5,4,1,0.3,0,0,0,0,0,0,0];

// ---------- snow risk ----------
const snowHours=[12,18,24,30,36,42,48,54,60,66,72,78,84,96,102,108,114,120,210,216,222,228,234,240,246,252,258,264,270,276,282,288,294,300,306,312,318,324,330,336,342,348,354];
const snowPct=[100,100,100,94,100,100,100,100,93,53,6,38,19,6,16,22,12,6,13,19,23,23,25,26,29,32,32,26,32,25,19,19,9,12,10,13,13,13,12,12,10,12,10];
const snowAmt=[4,4,4,3.8,4,4,4,4,3.9,2.6,1.9,1.5,1.5,0.7,0.7,0.7,0.7,0.7,1,1,1,1,1,1,1,1,1,1,1,1,1,1,1,1,1,1,1,1,1,1,1,1,1];

// ---------------------------------------------------------------
const t850=[t850_01,t850_02,t850_03,t850_04,t850_05,t850_06,t850_07,t850_08,t850_09,t850_10,t850_11,t850_12,t850_13,t850_14,t850_15,t850_16,t850_17,t850_18,t850_19,t850_20,t850_21,t850_22,t850_23,t850_24,t850_25,t850_26,t850_27,t850_28,t850_29,t850_30];
const t500=[t500_01,t500_02,t500_03,t500_04,t500_05,t500_06,t500_07,t500_08,t500_09,t500_10,t500_11,t500_12,t500_13,t500_14,t500_15,t500_16,t500_17,t500_18,t500_19,t500_20,t500_21,t500_22,t500_23,t500_24,t500_25,t500_26,t500_27,t500_28,t500_29,t500_30];
const prs=[pr_01,pr_02,pr_03,pr_04,pr_05,pr_06,pr_07,pr_08,pr_09,pr_10,pr_11,pr_12,pr_13,pr_14,pr_15,pr_16,pr_17,pr_18,pr_19,pr_20,pr_21,pr_22,pr_23,pr_24,pr_25,pr_26,pr_27,pr_28,pr_29,pr_30];

const MONO='"DejaVu Sans Mono", "Liberation Mono", monospace';
const svg=d3.select("#chart");
svg.append("rect").attr("width",740).attr("height",700).attr("fill","#fff");

const x=d3.scaleLinear().domain([0,384]).range([50,690]);
const y=d3.scaleLinear().domain([-45,30]).range([547,22]);
const yP=d3.scaleLinear().domain([0,75]).range([547,22]);
const ySnow=d3.scaleLinear().domain([0,4]).range([585,557]);

// grid
const grid=svg.append("g").attr("shape-rendering","crispEdges");
leftTicks.forEach(v=>{
  if(v===0) return;
  const w=(v%10===0)?2:1;
  const yy=Math.round(y(v))+(w===1?0.5:0);
  grid.append("line").attr("x1",50).attr("x2",691).attr("y1",yy).attr("y2",yy)
    .attr("stroke","#c0c0c0").attr("stroke-width",w);
});
dayLabels.forEach((d,k)=>{
  const xx=Math.round(x(k*24))+0.5;
  grid.append("line").attr("x1",xx).attr("x2",xx).attr("y1",0).attr("y2",606)
    .attr("stroke","#c0c0c0").attr("stroke-width",1);
});
// zero line (double)
grid.append("rect").attr("x",50).attr("y",y(0)-2).attr("width",641).attr("height",4).attr("fill","#8c8c8c");
grid.append("rect").attr("x",50).attr("y",y(0)-0.5).attr("width",641).attr("height",1).attr("fill","#c8c8c8");

// snow risk
const snowG=svg.append("g");
snowHours.forEach((h,i)=>{
  const cx=x(h);
  snowG.append("rect").attr("x",cx-5).attr("width",10).attr("y",ySnow(snowAmt[i]))
    .attr("height",585-ySnow(snowAmt[i])).attr("fill","#c8ffff").attr("shape-rendering","crispEdges");
});
function flake(g,cx,cy,r){
  g.append("circle").attr("cx",cx).attr("cy",cy).attr("r",r).attr("fill","#8ed6f6").attr("stroke","#62c2ee").attr("stroke-width",0.8);
  [0,60,120].forEach(a=>{
    const rad=a*Math.PI/180, dx=Math.cos(rad)*r*0.75, dy=Math.sin(rad)*r*0.75;
    g.append("line").attr("x1",cx-dx).attr("y1",cy-dy).attr("x2",cx+dx).attr("y2",cy+dy)
      .attr("stroke","#3a9fe0").attr("stroke-width",0.8);
  });
  g.append("circle").attr("cx",cx).attr("cy",cy).attr("r",1).attr("fill","#ffffff");
}
snowHours.forEach((h,i)=>{
  const cx=x(h);
  flake(snowG,cx,589,5);
  snowG.append("text").attr("transform",`translate(${cx+3.5},581) rotate(-90)`)
    .attr("font-family",MONO).attr("font-size",8.5).attr("font-weight","bold").attr("fill","#0000ff")
    .text(snowPct[i]+"%");
});

// series
const lineT=(hrs,sc)=>d3.line().x((d,i)=>x(hrs[i])).y(d=>sc(d));
function crosses(arr,hrs,sc){
  return arr.map((v,i)=>{const px=x(hrs[i]),py=sc(v);return `M${px-1.5},${py}h3M${px},${py-1.5}v3`;}).join("");
}
const memG=svg.append("g").attr("fill","none");
function drawMembers(list,hrs,sc){
  list.forEach((arr,k)=>{
    const c=memberColors[k];
    memG.append("path").attr("d",lineT(hrs,sc)(arr)).attr("stroke",c).attr("stroke-width",1);
    memG.append("path").attr("d",crosses(arr,hrs,sc)).attr("stroke",c).attr("stroke-width",1);
  });
}
const prY=v=>yP(v);
drawMembers(t850,hoursT,y);
drawMembers(t500,hoursT,y);
drawMembers(prs,hoursP,prY);

const mainG=svg.append("g").attr("fill","none").attr("stroke-linejoin","round").attr("stroke-linecap","round");
function drawMain(arr,hrs,sc,col,w){
  mainG.append("path").attr("d",lineT(hrs,sc)(arr)).attr("stroke",col).attr("stroke-width",w);
}
drawMain(ctrl850,hours6,y,"#0000ff",3.5);
drawMain(ctrl500,hours6,y,"#0000ff",3.5);
drawMain(ctrlPr,hoursP,prY,"#0000ff",3.5);
drawMain(gfs850,hours6,y,"#000000",3.5);
drawMain(gfs500,hours6,y,"#000000",3.5);
drawMain(gfsPr,hoursP,prY,"#000000",3.5);
drawMain(mean850,hours6,y,"#ff0000",5);
drawMain(mean500,hours6,y,"#ff0000",5);
drawMain(meanPr,hoursP,prY,"#ff0000",5);

// axis line
svg.append("line").attr("x1",50).attr("x2",691).attr("y1",600).attr("y2",600).attr("stroke","#000").attr("stroke-width",2);

// y axes
const axL=svg.append("g").attr("transform","translate(33,0)")
  .call(d3.axisLeft(y).tickValues(leftTicks).tickSize(0).tickPadding(0).tickFormat(d=>String(d)));
axL.select(".domain").remove();
axL.selectAll("text").attr("font-family","'Liberation Sans', Arial, sans-serif").attr("font-size",11).attr("fill","#000");
const axR=svg.append("g").attr("transform","translate(708,0)")
  .call(d3.axisRight(yP).tickValues(rightTicks).tickSize(0).tickPadding(0).tickFormat(d=>String(d)));
axR.select(".domain").remove();
axR.selectAll("text").attr("font-family","'Liberation Sans', Arial, sans-serif").attr("font-size",11).attr("fill","#000");

// x labels (rotated)
dayLabels.forEach((d,k)=>{
  svg.append("text").attr("transform",`translate(${x(k*24)+9.5},632) rotate(-90)`)
    .attr("font-family",MONO).attr("font-size",10).attr("fill","#000").text(d);
});

// text helper
function txt(s,xx,yy,opts={}){
  const t=svg.append("text").attr("x",xx).attr("y",yy).attr("font-family",MONO)
    .attr("font-size",opts.size||10).attr("fill","#000").attr("dominant-baseline","central").text(s);
  if(opts.bold) t.attr("font-weight","bold");
  return t;
}
txt("Temp. 850hPa",60,279);
txt("Temp. 500hPa",60,395);
txt("Précipitations",60,468);
txt("(°C)",20,606);
txt("(mm)",710,606);
txt("Alt. 54m",10,623);

// legend
svg.append("line").attr("x1",35).attr("x2",65).attr("y1",637).attr("y2",637).attr("stroke","#ff0000").attr("stroke-width",5);
txt("Moyenne des scénarios",75,637);
svg.append("line").attr("x1",225).attr("x2",255).attr("y1",637).attr("y2",637).attr("stroke","#0000ff").attr("stroke-width",5);
txt("Run de contrôle",265,637);
svg.append("line").attr("x1",225).attr("x2",255).attr("y1",647).attr("y2",647).attr("stroke","#000").attr("stroke-width",5);
txt("Run GFS",265,647);
flake(svg,60,657,5);
txt("Risque neige",75,659);
txt("30 Perts.",340,652);

// member colour boxes
memberIds.forEach((id,k)=>{
  svg.append("rect").attr("x",400+11*k).attr("y",650).attr("width",10).attr("height",6).attr("fill",memberColors[k]);
  svg.append("text").attr("x",405+11*k).attr("y",646).attr("text-anchor","middle")
    .attr("font-family",MONO).attr("font-size",7.2).attr("font-weight","bold").attr("fill","#000").text(id);
});

// title box
svg.append("rect").attr("x",20.5).attr("y",667.5).attr("width",419).attr("height",31)
  .attr("fill","none").attr("stroke","#000").attr("stroke-width",1.5);
txt("Diagramme des ensembles GEFS sur 384h pour Istanbul",30,677,{bold:true,size:11.6});
txt("Températures 850hPa et 500hPa (°C) , précipitations (mm)",30,692);
txt("Ensemble GEFS du 15/02/2021 - 00Z",450,675);
txt("Copyright 2021 Meteociel.fr",450,692,{bold:true,size:11.6});
</script>
</body></html>
